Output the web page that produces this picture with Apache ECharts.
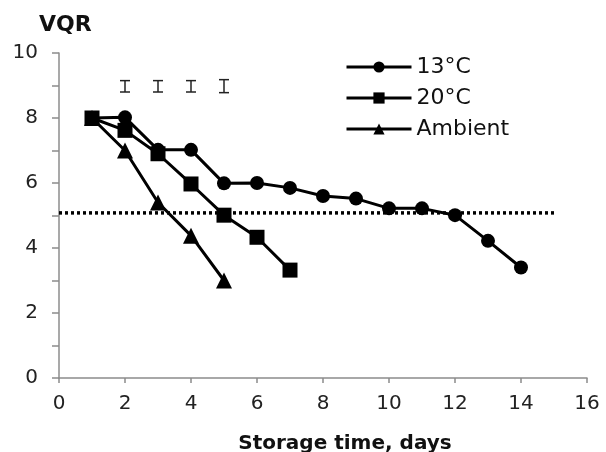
<!DOCTYPE html>
<html>
<head>
    <title>VQR vs storage time</title>
    <script type="text/javascript" src="https://cdn.jsdelivr.net/npm/echarts@6/dist/echarts.min.js"></script>
    <style>
        body {
            margin: 0px;
            padding: 0px;
        }
    </style>
</head>
<body>
<div id="chartRegion" style="width: 606px; height: 452px;"></div>
<script type="text/javascript">
    // storage days
    var days13 = [1, 2, 3, 4, 5, 6, 7, 8, 9, 10, 11, 12, 13, 14];
    var days20 = [1, 2, 3, 4, 5, 6, 7];
    var daysAmb = [1, 2, 3, 4, 5];
    // VQR values
    var vqr13 = [8, 8.02, 7.02, 7.02, 5.99, 6.0, 5.85, 5.6, 5.52, 5.22, 5.22, 5.01, 4.22, 3.4];
    var vqr20 = [8, 7.62, 6.9, 5.97, 5.01, 4.33, 3.32];
    var vqrAmb = [8, 7.0, 5.4, 4.38, 3.0];
    // error bars on top
    var errX = [2, 3, 4, 5];
    var errLow = [8.8, 8.8, 8.8, 8.78];
    var errHigh = [9.15, 9.15, 9.15, 9.18];
    // dotted limit line
    var limitX = [0, 15];
    var limitY = [5.08, 5.08];
    var seriesNames = ['13°C', '20°C', 'Ambient'];

    function pairs(xs, ys) {
        var out = [];
        for (var i = 0; i < xs.length; i++) {
            out.push([xs[i], ys[i]]);
        }
        return out;
    }

    var errData = [];
    for (var i = 0; i < errX.length; i++) {
        errData.push([errX[i], errLow[i], errHigh[i]]);
    }

    var font = 'DejaVu Sans';
    var chart = echarts.init(document.getElementById('chartRegion'));
    var option = {
        animation: false,
        grid: {left: 59, right: 19, top: 53, bottom: 74},
        title: [
            {text: 'VQR', left: 39, top: 14, padding: 0, textStyle: {fontFamily: font, fontSize: 22, fontWeight: 'bold', color: '#111'}},
            {text: 'Storage time, days', left: 345, textAlign: 'center', top: 434, padding: 0, textStyle: {fontFamily: font, fontSize: 20, fontWeight: 'bold', color: '#111'}}
        ],
        legend: {
            orient: 'vertical',
            left: 345,
            top: 56,
            padding: 0,
            itemWidth: 65,
            itemHeight: 14,
            itemGap: 9,
            data: seriesNames,
            lineStyle: {width: 3},
            textStyle: {fontFamily: font, fontSize: 22, color: '#111'}
        },
        xAxis: {
            type: 'value',
            min: 0,
            max: 16,
            interval: 2,
            axisLine: {lineStyle: {color: '#8c8c8c', width: 1.5}},
            axisTick: {length: 5, lineStyle: {color: '#8c8c8c', width: 1.5}},
            axisLabel: {fontFamily: font, fontSize: 20, color: '#222', margin: 16},
            splitLine: {show: false}
        },
        yAxis: {
            type: 'value',
            min: 0,
            max: 10,
            interval: 1,
            axisLine: {show: true, lineStyle: {color: '#8c8c8c', width: 1.5}},
            axisTick: {show: true, length: 7, lineStyle: {color: '#8c8c8c', width: 1.5}},
            axisLabel: {
                fontFamily: font, fontSize: 20, color: '#222', margin: 21,
                formatter: function (v) { return v % 2 === 0 ? String(v) : ''; }
            },
            splitLine: {show: false}
        },
        series: [
            {
                name: seriesNames[0], type: 'line', data: pairs(days13, vqr13),
                symbol: 'circle', symbolSize: 14,
                lineStyle: {color: '#000', width: 3}, itemStyle: {color: '#000'}, z: 4
            },
            {
                name: seriesNames[1], type: 'line', data: pairs(days20, vqr20),
                symbol: 'rect', symbolSize: 15,
                lineStyle: {color: '#000', width: 3}, itemStyle: {color: '#000'}, z: 4
            },
            {
                name: seriesNames[2], type: 'line', data: pairs(daysAmb, vqrAmb),
                symbol: 'triangle', symbolSize: 16,
                lineStyle: {color: '#000', width: 3}, itemStyle: {color: '#000'}, z: 4
            },
            {
                name: 'limit', type: 'line', data: pairs(limitX, limitY),
                symbol: 'none', silent: true,
                lineStyle: {color: '#000', width: 3.5, type: [3, 3]}, z: 3
            },
            {
                name: 'err', type: 'custom', data: errData, silent: true,
                renderItem: function (params, api) {
                    var lo = api.coord([api.value(0), api.value(1)]);
                    var hi = api.coord([api.value(0), api.value(2)]);
                    var w = 5;
                    var st = {stroke: '#222', lineWidth: 1.5};
                    return {
                        type: 'group',
                        children: [
                            {type: 'line', shape: {x1: lo[0], y1: lo[1], x2: hi[0], y2: hi[1]}, style: st},
                            {type: 'line', shape: {x1: lo[0] - w, y1: lo[1], x2: lo[0] + w, y2: lo[1]}, style: st},
                            {type: 'line', shape: {x1: hi[0] - w, y1: hi[1], x2: hi[0] + w, y2: hi[1]}, style: st}
                        ]
                    };
                }
            }
        ]
    };
    chart.setOption(option);
</script>
</body>
</html>
